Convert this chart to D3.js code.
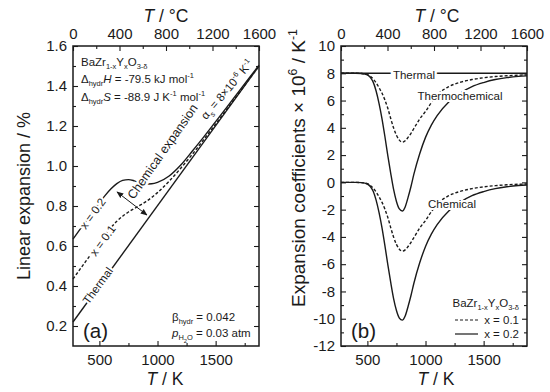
<!DOCTYPE html>
<html>
<head>
<meta charset="utf-8">
<script src="https://cdn.jsdelivr.net/npm/d3@7"></script>
<style>
  body { margin: 0; background: #fff; }
  svg { display: block; font-family: "Liberation Sans", Arial, sans-serif; }
</style>
</head>
<body>
<svg id="chart" width="550" height="392"></svg>
<script>
"use strict";

// ---- data ----
const kTicks = [500, 1000, 1500];
const kMinor = [750, 1250, 1750];
const cTicks = [0, 400, 800, 1200, 1600];
const cMinor = [200, 600, 1000, 1400];

const expTicks = [0.2, 0.4, 0.6, 0.8, 1.0, 1.2, 1.4, 1.6];
const expMinor = [0.3, 0.5, 0.7, 0.9, 1.1, 1.3, 1.5];
const coefTicks = [-12, -10, -8, -6, -4, -2, 0, 2, 4, 6, 8, 10];
const coefMinor = [-11, -9, -7, -5, -3, -1, 1, 3, 5, 7, 9];

// (a) linear expansion, %
const thermalT = [273, 1873];
const thermalExp = [0.22, 1.50];
const tempA = [273, 350, 400, 450, 500, 550, 600, 650, 700, 750, 800, 850, 900, 950,
  1000, 1100, 1200, 1300, 1400, 1500, 1600, 1700, 1800, 1873];
const expX02 = [0.635, 0.697, 0.737, 0.777, 0.816, 0.853, 0.886, 0.912, 0.928, 0.932, 0.926,
  0.916, 0.910, 0.911, 0.918, 0.950, 1.005, 1.075, 1.147, 1.222, 1.297, 1.373, 1.449, 1.504];
const expX01 = [0.435, 0.497, 0.537, 0.577, 0.617, 0.656, 0.692, 0.724, 0.749, 0.770, 0.787,
  0.804, 0.822, 0.843, 0.867, 0.924, 0.989, 1.059, 1.134, 1.210, 1.287, 1.365, 1.443, 1.500];

// (b) expansion coefficients x 1e6 / K
const thermalAlpha = [8, 8];
const tempB = [273, 400, 450, 500, 525, 550, 575, 600, 625, 650, 675, 700, 725, 750, 775, 800,
  825, 850, 875, 900, 950, 1000, 1050, 1100, 1200, 1300, 1400, 1500, 1600, 1700, 1800, 1873];
const chemX02 = [0, 0, -0.02, -0.12, -0.3, -0.65, -1.3, -2.2, -3.3, -4.6, -6.0, -7.3, -8.5, -9.4,
  -9.95, -10.1, -9.8, -9.1, -8.3, -7.4, -5.9, -4.7, -3.8, -3.1, -2.1, -1.45, -0.98, -0.68,
  -0.46, -0.32, -0.23, -0.19];
const chemX01 = [0, 0, -0.02, -0.1, -0.22, -0.42, -0.7, -1.05, -1.45, -1.95, -2.55, -3.3, -4.0,
  -4.55, -4.9, -5.05, -4.95, -4.7, -4.4, -4.05, -3.35, -2.8, -2.15, -1.6, -0.98, -0.66, -0.46,
  -0.33, -0.24, -0.18, -0.14, -0.12];
const tcX02 = [8, 8, 7.98, 7.88, 7.7, 7.35, 6.7, 5.8, 4.7, 3.4, 2.0, 0.7, -0.5, -1.4, -1.95, -2.1,
  -1.8, -1.1, -0.3, 0.6, 2.1, 3.3, 4.2, 4.9, 5.9, 6.55, 7.02, 7.32, 7.54, 7.68, 7.77, 7.81];
const tcX01 = [8, 8, 7.98, 7.9, 7.78, 7.58, 7.3, 6.95, 6.55, 6.05, 5.45, 4.7, 4.0, 3.45, 3.1, 2.95,
  3.05, 3.3, 3.6, 3.95, 4.65, 5.2, 5.85, 6.4, 7.02, 7.34, 7.54, 7.67, 7.76, 7.82, 7.86, 7.88];

const FONT = '"Liberation Sans", Arial, sans-serif';
const INK = "#1a1a1a";
const svg = d3.select("#chart");

const xA = d3.scaleLinear([273, 1873], [73, 259]);
const xAC = d3.scaleLinear([0, 1600], [73, 259]);
const yA = d3.scaleLinear([0.1, 1.6], [346, 46]);
const xB = d3.scaleLinear([273, 1873], [341, 527]);
const xBC = d3.scaleLinear([0, 1600], [341, 527]);
const yB = d3.scaleLinear([-12, 10], [346, 46]);

// rich text: parts are strings or [text, kind]
function rich(sel, parts, size) {
  let off = 0;
  parts.forEach(p => {
    const [s, k] = typeof p === "string" ? [p, ""] : p;
    const target = k === "sub" ? size * 0.3 : k === "sub2" ? size * 0.5 : k === "sup" ? -size * 0.4 : 0;
    const ts = sel.append("tspan").text(s).attr("dy", target - off);
    if (k === "sub" || k === "sup") ts.style("font-size", (size * 0.65) + "px");
    if (k === "sub2") ts.style("font-size", (size * 0.5) + "px");
    if (k === "i") ts.style("font-style", "italic");
    off = target;
  });
  return sel;
}

function label(x, y, parts, size, opts = {}) {
  const t = svg.append("text")
    .attr("x", x).attr("y", y)
    .attr("fill", INK)
    .style("font-size", size + "px")
    .attr("text-anchor", opts.anchor || "start");
  if (opts.rotate) t.attr("transform", `rotate(${opts.rotate},${x},${y})`);
  if (opts.halo) t.attr("stroke", "#fff").attr("stroke-width", opts.halo).attr("paint-order", "stroke");
  return rich(t, parts, size);
}

function panel(x, xc, y, yMaj, yMin, yFmt) {
  const [x0, x1] = x.range();
  const [y0, y1] = y.range();
  const g = svg.append("g");
  const ax = (gen, tx, ty) => g.append("g")
    .attr("transform", `translate(${tx},${ty})`)
    .call(gen)
    .call(a => a.select(".domain").remove())
    .call(a => a.selectAll("line").attr("stroke", INK).attr("stroke-width", 1.1))
    .call(a => a.selectAll("text").attr("fill", INK))
    .attr("font-size", 15).attr("font-family", FONT);
  ax(d3.axisBottom(x).tickValues(kTicks).tickSize(-5).tickPadding(8).tickFormat(d3.format("d")), 0, y0);
  ax(d3.axisBottom(x).tickValues(kMinor).tickSize(-3).tickFormat(""), 0, y0);
  ax(d3.axisTop(xc).tickValues(cTicks).tickSize(-5).tickPadding(7).tickFormat(d3.format("d")), 0, y1);
  ax(d3.axisTop(xc).tickValues(cMinor).tickSize(-3).tickFormat(""), 0, y1);
  ax(d3.axisLeft(y).tickValues(yMaj).tickSize(-5).tickPadding(6).tickFormat(yFmt), x0, 0);
  ax(d3.axisLeft(y).tickValues(yMin).tickSize(-3).tickFormat(""), x0, 0);
  ax(d3.axisRight(y).tickValues(yMaj).tickSize(-5).tickFormat(""), x1, 0);
  ax(d3.axisRight(y).tickValues(yMin).tickSize(-3).tickFormat(""), x1, 0);
  g.append("rect")
    .attr("x", x0).attr("y", y1)
    .attr("width", x1 - x0).attr("height", y0 - y1)
    .attr("fill", "none").attr("stroke", INK).attr("stroke-width", 1.5);
}

function curve(x, y, ts, vs, dash) {
  const line = d3.line().x(d => x(d[0])).y(d => y(d[1])).curve(d3.curveMonotoneX);
  svg.append("path")
    .attr("d", line(d3.zip(ts, vs)))
    .attr("fill", "none")
    .attr("stroke", INK)
    .attr("stroke-width", 1.4)
    .attr("stroke-dasharray", dash ? "3,2" : null);
}

// ---- panel (a) ----
curve(xA, yA, thermalT, thermalExp, false);
curve(xA, yA, tempA, expX01, true);
curve(xA, yA, tempA, expX02, false);

// ---- panel (b) ----
curve(xB, yB, thermalT, thermalAlpha, false);
curve(xB, yB, tempB, tcX01, true);
curve(xB, yB, tempB, tcX02, false);
curve(xB, yB, tempB, chemX01, true);
curve(xB, yB, tempB, chemX02, false);

// ---- annotations (a) ----
label(81, 66, ["BaZr", ["1-x", "sub"], "Y", ["x", "sub"], "O", ["3-δ", "sub"]], 11.5);
label(81, 83, ["Δ", ["hydr", "sub"], ["H", "i"], " = -79.5 kJ mol", ["-1", "sup"]], 11.5);
label(81, 101, ["Δ", ["hydr", "sub"], ["S", "i"], " = -88.9 J K", ["-1", "sup"], " mol", ["-1", "sup"]], 11.5);
label(230, 92, ["α", ["s", "sub"], " = 8×10", ["-6", "sup"], " K", ["-1", "sup"]], 11.5,
  { anchor: "middle", rotate: -50 });
label(166, 154, ["Chemical expansion"], 12.5, { anchor: "middle", rotate: -55, halo: 5 });
label(96, 216, ["x = 0.2"], 11.5, { anchor: "middle", rotate: -54, halo: 4 });
label(106, 243, ["x = 0.1"], 11.5, { anchor: "middle", rotate: -54, halo: 4 });
label(101, 288, ["Thermal"], 11.5, { anchor: "middle", rotate: -54, halo: 4 });
label(83, 338, ["(a)"], 20.5);
label(172, 321, ["β", ["hydr", "sub"], " = 0.042"], 11.5);
label(172, 337, [["p", "i"], ["H", "sub"], ["2", "sub2"], ["O", "sub"], " = 0.03 atm"], 11.5);

svg.append("defs").append("marker")
  .attr("id", "arr").attr("viewBox", "0 0 10 10")
  .attr("refX", 9).attr("refY", 5)
  .attr("markerWidth", 7).attr("markerHeight", 7)
  .attr("orient", "auto-start-reverse")
  .append("path").attr("d", "M0,1L10,5L0,9Z").attr("fill", INK);
svg.append("line")
  .attr("x1", 117).attr("y1", 192).attr("x2", 147).attr("y2", 215)
  .attr("stroke", INK).attr("stroke-width", 1)
  .attr("marker-start", "url(#arr)").attr("marker-end", "url(#arr)");

// ---- annotations (b) ----
label(414, 78.5, ["Thermal"], 11.5, { anchor: "middle", halo: 5 });
label(460, 100, ["Thermochemical"], 11.5, { anchor: "middle", halo: 4 });
label(452, 208, ["Chemical"], 11.5, { anchor: "middle", halo: 4 });
label(351, 338, ["(b)"], 20.5);
label(519, 307, ["BaZr", ["1-x", "sub"], "Y", ["x", "sub"], "O", ["3-δ", "sub"]], 11.5, { anchor: "end" });
label(519, 324, ["x = 0.1"], 11.5, { anchor: "end" });
label(519, 338, ["x = 0.2"], 11.5, { anchor: "end" });
svg.append("line").attr("x1", 455).attr("x2", 478).attr("y1", 320).attr("y2", 320)
  .attr("stroke", INK).attr("stroke-width", 1.2).attr("stroke-dasharray", "3,2");
svg.append("line").attr("x1", 455).attr("x2", 478).attr("y1", 334).attr("y2", 334)
  .attr("stroke", INK).attr("stroke-width", 1.2);

// ---- frames & axes ----
panel(xA, xAC, yA, expTicks, expMinor, d3.format(".1f"));
panel(xB, xBC, yB, coefTicks, coefMinor, d => String(d));

// axis titles
label(166, 22, [["T", "i"], " / °C"], 17.5, { anchor: "middle" });
label(437, 22, [["T", "i"], " / °C"], 17.5, { anchor: "middle" });
label(165, 385, [["T", "i"], " / K"], 17.5, { anchor: "middle" });
label(436, 385, [["T", "i"], " / K"], 17.5, { anchor: "middle" });
label(30, 196, ["Linear expansion / %"], 18, { anchor: "middle", rotate: -90 });
label(305, 168, ["Expansion coefficients × 10", ["6", "sup"], " / K", ["-1", "sup"]], 19,
  { anchor: "middle", rotate: -90 });
</script>
</body>
</html>
